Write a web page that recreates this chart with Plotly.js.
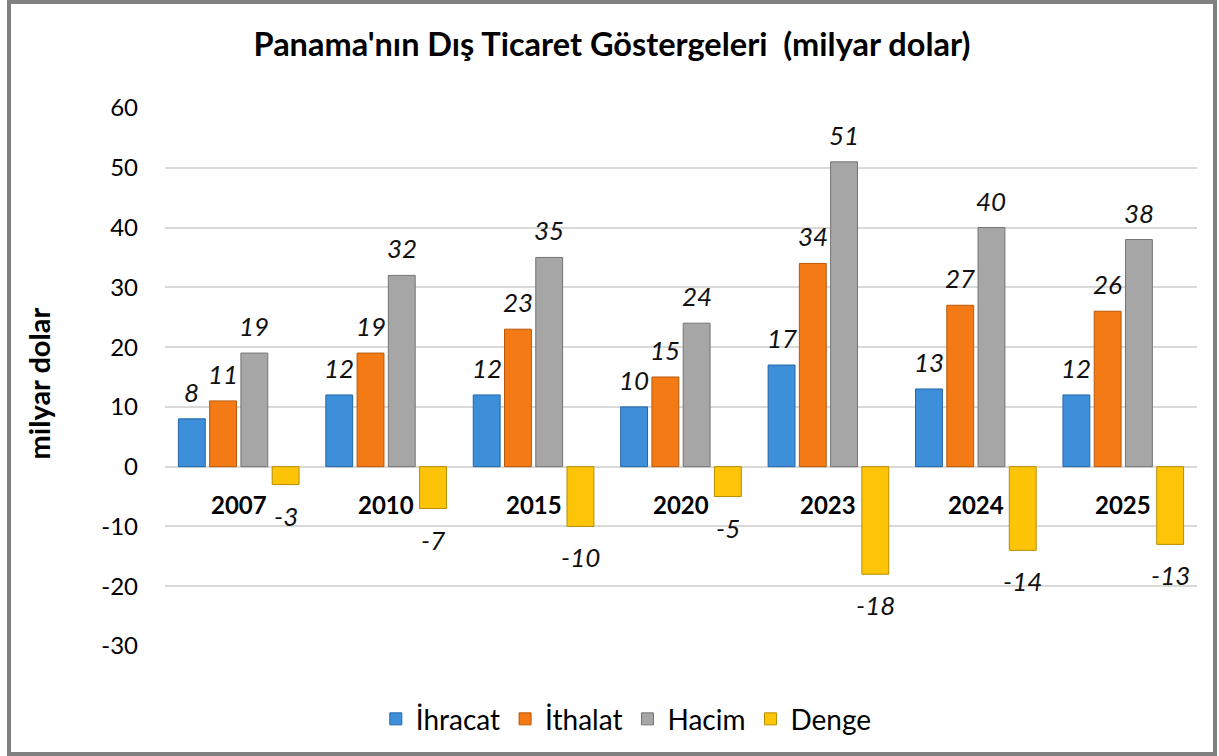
<!DOCTYPE html>
<html>
<head>
<meta charset="utf-8">
<script src="https://cdn.plot.ly/plotly-3.0.1.min.js"></script>
<style>
html,body{margin:0;padding:0;background:#fff;}
#wrap{position:relative;width:1219px;height:756px;}
#chart{position:absolute;left:0;top:0;width:1219px;height:756px;}
#frame{position:absolute;left:7px;top:0;width:1210px;height:756px;box-sizing:border-box;border:4px solid #808080;pointer-events:none;}
</style>
</head>
<body>
<div id="wrap"><div id="chart"></div><div id="frame"></div></div>
<script>
const years = ['2007','2010','2015','2020','2023','2024','2025'];
const ihracat = [8, 12, 12, 10, 17, 13, 12];
const ithalat = [11, 19, 23, 15, 34, 27, 26];
const hacim = [19, 32, 35, 24, 51, 40, 38];
const denge = [-3, -7, -10, -5, -18, -14, -13];
const seriesNames = ['İhracat', 'İthalat', 'Hacim', 'Denge'];
const yTicks = [-30, -20, -10, 0, 10, 20, 30, 40, 50, 60];
const yTitle = 'milyar dolar';

const colors = ['#3E8FDA', '#F37A14', '#A6A6A6', '#FDC408'];
const lineColors = ['#2466A6', '#B9580A', '#747474', '#B88E00'];
const allSeries = [ihracat, ithalat, hacim, denge];

const FONT = 'Lato, "Open Sans", sans-serif';
const margin = {l: 165, r: 22, t: 108, b: 103};
const W = 1219, H = 756;
const bargap = 0.152, bargroupgap = 0.14;
const yMin = -30, yMax = 60;

const traces = allSeries.map((vals, i) => ({
  type: 'bar',
  name: seriesNames[i],
  x: years,
  y: vals,
  marker: {color: colors[i], line: {color: lineColors[i], width: 1}},
  hoverinfo: 'x+y+name'
}));

const plotW = W - margin.l - margin.r;
const plotH = H - margin.t - margin.b;
const groupW = plotW / years.length;
const slotW = groupW * (1 - bargap) / allSeries.length;

const annotations = [];
allSeries.forEach((vals, i) => {
  const xs = (i - (allSeries.length - 1) / 2) * slotW;
  vals.forEach((v, j) => {
    annotations.push({
      x: j, y: v, xref: 'x', yref: 'y',
      text: String(v), showarrow: false,
      xshift: xs,
      yanchor: v >= 0 ? 'bottom' : 'top',
      yshift: v >= 0 ? 9 : -13,
      font: {family: FONT, size: 26, color: '#111', style: 'italic'}
    });
  });
});
// category labels just below the zero line
years.forEach((yr, j) => {
  annotations.push({
    x: j, y: 0, xref: 'x', yref: 'y',
    text: yr, showarrow: false,
    yanchor: 'top', yshift: -21,
    font: {family: FONT, size: 24, color: '#000', weight: 'bold'}
  });
});
// y-axis title
annotations.push({
  xref: 'paper', yref: 'paper',
  x: (38 - margin.l) / plotW, y: (H - margin.b - 387) / plotH,
  xanchor: 'center', yanchor: 'middle',
  text: yTitle, textangle: -90, showarrow: false,
  font: {family: FONT, size: 29, color: '#000', weight: 'bold'}
});

const layout = {
  width: W, height: H,
  margin: margin,
  paper_bgcolor: '#fff', plot_bgcolor: '#fff',
  barmode: 'group', bargap: bargap, bargroupgap: bargroupgap,
  title: {
    text: "Panama'nın Dış Ticaret Göstergeleri  (milyar dolar)",
    x: 0.502, xanchor: 'center', y: 1 - 45 / H, yanchor: 'middle',
    font: {family: FONT, size: 32.5, color: '#000', weight: 'bold'}
  },
  xaxis: {
    type: 'category',
    categoryorder: 'array', categoryarray: years,
    showline: false, showgrid: false, zeroline: false, ticks: '',
    showticklabels: false,
    fixedrange: true
  },
  yaxis: {
    range: [yMin, yMax],
    tickvals: yTicks,
    ticktext: yTicks.map(String),
    showgrid: true, gridcolor: '#D9D9D9', gridwidth: 1.5,
    zeroline: true, zerolinecolor: '#D9D9D9', zerolinewidth: 1.5,
    showline: false, ticks: '',
    ticklabelstandoff: 26,
    tickfont: {family: FONT, size: 24, color: '#000'},
    fixedrange: true
  },
  legend: {
    orientation: 'h', x: 0.447, xanchor: 'center', y: -0.136, yanchor: 'middle',
    font: {family: FONT, size: 28, color: '#000'},
    itemwidth: 30, tracegroupgap: 0
  },
  annotations: annotations,
  showlegend: true
};

Plotly.newPlot('chart', traces, layout, {displayModeBar: false, responsive: false});
</script>
</body>
</html>
